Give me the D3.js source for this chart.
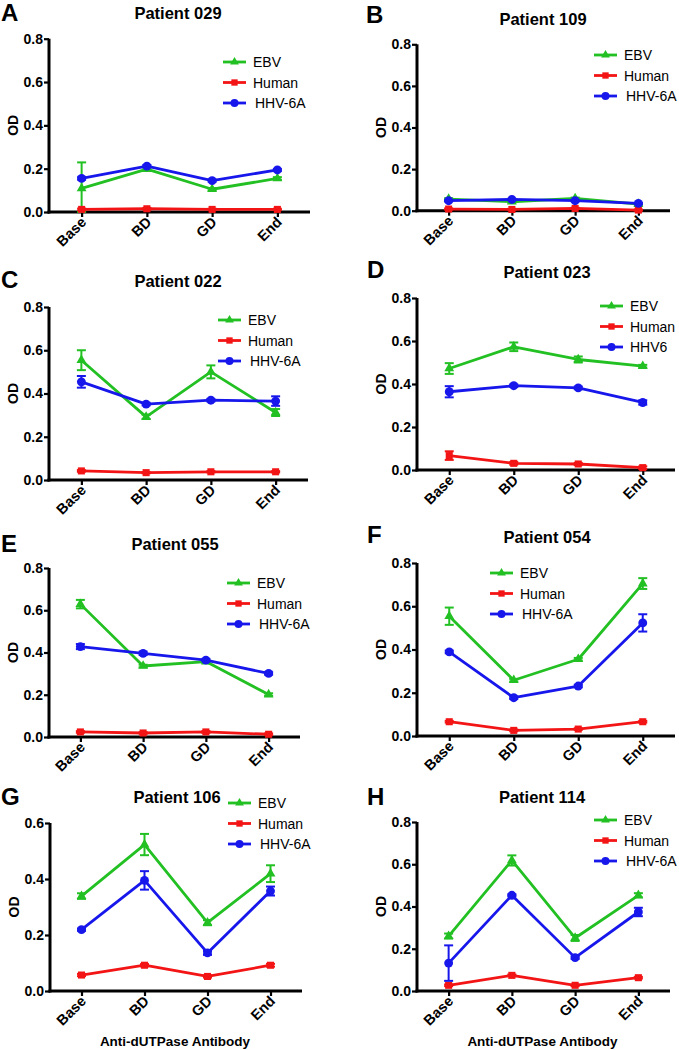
<!DOCTYPE html>
<html><head><meta charset="utf-8">
<script src="https://cdn.jsdelivr.net/npm/d3@7"></script>
<style>
body{margin:0;background:#fff}
svg{display:block}
text{font-family:"Liberation Sans",Arial,sans-serif;fill:#000}
</style>
</head><body>
<svg id="c" width="679" height="1050"></svg>
<script>
// ---------- data ----------
const categories = ["Base", "BD", "GD", "End"];
const seriesNames = ["EBV", "Human", "HHV-6A"];
const seriesNamesD = ["EBV", "Human", "HHV6"];
const panelLetters = ["A", "B", "C", "D", "E", "F", "G", "H"];
const panelTitles = ["Patient 029", "Patient 109", "Patient 022", "Patient 023", "Patient 055", "Patient 054", "Patient 106", "Patient 114"];
const yTicks08 = [0, 0.2, 0.4, 0.6, 0.8];
const yTicks06 = [0, 0.2, 0.4, 0.6];
const xAxisTitle = "Anti-dUTPase Antibody";
const yAxisTitle = "OD";

// means per series [EBV, Human, HHV-6A] at Base, BD, GD, End
const p029 = [[0.109, 0.198, 0.105, 0.155], [0.012, 0.015, 0.012, 0.012], [0.155, 0.212, 0.145, 0.194]];
const p029err = [[0.12, 0.006, 0.005, 0.006], [0.004, 0.004, 0.003, 0.003], [0.006, 0.005, 0.005, 0.005]];
const p109 = [[0.056, 0.043, 0.059, 0.032], [0.008, 0.006, 0.011, 0.003], [0.048, 0.054, 0.048, 0.035]];
const p109err = [[0.004, 0.004, 0.004, 0.003], [0.003, 0.003, 0.003, 0.003], [0.003, 0.003, 0.003, 0.003]];
const p022 = [[0.554, 0.292, 0.500, 0.312], [0.042, 0.034, 0.038, 0.038], [0.454, 0.351, 0.369, 0.365]];
const p022err = [[0.046, 0.010, 0.030, 0.016], [0.004, 0.003, 0.003, 0.003], [0.027, 0.006, 0.006, 0.022]];
const p023 = [[0.472, 0.573, 0.514, 0.483], [0.067, 0.031, 0.028, 0.011], [0.364, 0.392, 0.382, 0.314]];
const p023err = [[0.025, 0.020, 0.014, 0.006], [0.020, 0.006, 0.005, 0.006], [0.026, 0.006, 0.006, 0.010]];
const p055 = [[0.629, 0.336, 0.357, 0.201], [0.024, 0.019, 0.024, 0.013], [0.428, 0.396, 0.364, 0.301]];
const p055err = [[0.020, 0.006, 0.006, 0.006], [0.004, 0.004, 0.004, 0.004], [0.012, 0.008, 0.006, 0.006]];
const p054 = [[0.554, 0.258, 0.355, 0.705], [0.066, 0.026, 0.032, 0.066], [0.389, 0.177, 0.231, 0.523]];
const p054err = [[0.040, 0.006, 0.006, 0.025], [0.004, 0.004, 0.004, 0.004], [0.006, 0.006, 0.006, 0.040]];
const p106 = [[0.339, 0.523, 0.244, 0.419], [0.057, 0.092, 0.052, 0.092], [0.219, 0.395, 0.136, 0.357]];
const p106err = [[0.010, 0.038, 0.009, 0.030], [0.004, 0.004, 0.004, 0.005], [0.004, 0.033, 0.007, 0.016]];
const p114 = [[0.260, 0.618, 0.251, 0.453], [0.027, 0.074, 0.027, 0.063], [0.132, 0.453, 0.158, 0.374]];
const p114err = [[0.012, 0.024, 0.014, 0.010], [0.004, 0.004, 0.004, 0.004], [0.084, 0.005, 0.006, 0.020]];

const panelMeans = [p029, p109, p022, p023, p055, p054, p106, p114];
const panelErrs = [p029err, p109err, p022err, p023err, p055err, p054err, p106err, p114err];
const panelYMax = [0.8, 0.8, 0.8, 0.8, 0.8, 0.8, 0.6, 0.8];

// ---------- layout ----------
const colors = ["#22c022", "#f31515", "#1717ec"];
const symbols = [d3.symbolTriangle, d3.symbolSquare, d3.symbolCircle];
const symSizes = [42, 50, 62];

// left,right,top,bottom of plot; title x,y; letter x,y; legend lineX, first row y
const layout = [
  {l: 49, r: 310, t: 38.7, b: 212, tx: 178, ty: 18.5, lx: 1, ly: 21, gx: 223, gy: 62},
  {l: 417, r: 670, t: 44.3, b: 210.7, tx: 543, ty: 25, lx: 366, ly: 23, gx: 594, gy: 55},
  {l: 49, r: 308, t: 307, b: 480, tx: 178, ty: 287, lx: 1, ly: 288, gx: 218, gy: 320},
  {l: 417, r: 675, t: 298, b: 470, tx: 547, ty: 277.5, lx: 367, ly: 278, gx: 600, gy: 306},
  {l: 49, r: 300, t: 568, b: 737, tx: 175, ty: 550, lx: 1, ly: 552, gx: 227, gy: 583},
  {l: 417, r: 675, t: 563, b: 736, tx: 547, ty: 543, lx: 367, ly: 543, gx: 490, gy: 573},
  {l: 50, r: 302, t: 823, b: 991, tx: 177, ty: 803, lx: 1, ly: 805, gx: 228, gy: 803},
  {l: 417, r: 670, t: 822, b: 991, tx: 542, ty: 803, lx: 367, ly: 805, gx: 594, gy: 820}
];

const svg = d3.select("#c");

panelMeans.forEach((means, pi) => {
  const L = layout[pi];
  const errs = panelErrs[pi];
  const yMax = panelYMax[pi];
  const g = svg.append("g");

  const x = d3.scalePoint().domain(categories).range([L.l, L.r]).padding(0.5);
  const y = d3.scaleLinear().domain([0, yMax]).range([L.b, L.t]);

  // panel letter
  g.append("text").attr("x", L.lx).attr("y", L.ly)
    .attr("font-size", 24).attr("font-weight", "bold").text(panelLetters[pi]);
  // title
  g.append("text").attr("x", L.tx).attr("y", L.ty).attr("text-anchor", "middle")
    .attr("font-size", 16.5).attr("font-weight", "bold").text(panelTitles[pi]);

  // y axis
  const yAxis = d3.axisLeft(y).tickValues(yMax === 0.6 ? yTicks06 : yTicks08)
    .tickFormat(d3.format(".1f")).tickSize(5).tickSizeOuter(0).tickPadding(1);
  const ya = g.append("g").attr("transform", `translate(${L.l},0)`).call(yAxis);
  ya.select(".domain").attr("stroke", "#000").attr("stroke-width", 3)
    .attr("d", `M0,${L.b + 1.5}V${L.t}`);
  ya.selectAll(".tick line").attr("stroke", "#000").attr("stroke-width", 2.2);
  ya.selectAll(".tick text").attr("font-size", 14).attr("font-weight", "bold")
    .attr("font-family", "Liberation Sans, Arial, sans-serif").attr("fill", "#000");

  // x axis
  const xAxis = d3.axisBottom(x).tickSize(5).tickSizeOuter(0).tickPadding(0);
  const xa = g.append("g").attr("transform", `translate(0,${L.b})`).call(xAxis);
  xa.select(".domain").attr("stroke", "#000").attr("stroke-width", 3)
    .attr("d", `M${L.l - 1.5},0H${L.r}`);
  xa.selectAll(".tick line").attr("stroke", "#000").attr("stroke-width", 2.2);
  xa.selectAll(".tick text").attr("font-size", 14.5).attr("font-weight", "bold")
    .attr("font-family", "Liberation Sans, Arial, sans-serif").attr("fill", "#000")
    .attr("text-anchor", "end").attr("dy", null).attr("y", null)
    .attr("transform", "translate(5,11) rotate(-45)");

  // y title
  g.append("text").attr("transform", `translate(${L.l - 31},${(L.t + L.b) / 2}) rotate(-90)`)
    .attr("text-anchor", "middle").attr("font-size", 14).attr("font-weight", "bold").text(yAxisTitle);

  // x title (bottom row only)
  if (pi >= 6) {
    g.append("text").attr("x", (L.l + L.r) / 2 - 1).attr("y", 1045.5).attr("text-anchor", "middle")
      .attr("font-size", 13.5).attr("font-weight", "bold").text(xAxisTitle);
  }

  // series
  means.forEach((vals, si) => {
    const col = colors[si];
    const pts = vals.map((v, i) => ({c: categories[i], v, e: errs[si][i]}));
    const sg = g.append("g");
    // error bars
    pts.forEach(p => {
      const y1 = y(Math.max(0, p.v - p.e)), y2 = y(p.v + p.e), cx = x(p.c);
      sg.append("line").attr("x1", cx).attr("x2", cx).attr("y1", y1).attr("y2", y2)
        .attr("stroke", col).attr("stroke-width", 2);
      [y1, y2].forEach(yy => sg.append("line").attr("x1", cx - 4.5).attr("x2", cx + 4.5)
        .attr("y1", yy).attr("y2", yy).attr("stroke", col).attr("stroke-width", 2));
    });
    sg.append("path").datum(pts)
      .attr("d", d3.line().x(d => x(d.c)).y(d => y(d.v)))
      .attr("fill", "none").attr("stroke", col).attr("stroke-width", 2.8).attr("stroke-linejoin", "round");
    sg.selectAll("path.m").data(pts).join("path").attr("class", "m")
      .attr("transform", d => `translate(${x(d.c)},${y(d.v)})`)
      .attr("d", d3.symbol().type(symbols[si]).size(symSizes[si]))
      .attr("fill", col);
  });

  // legend
  const names = pi === 3 ? seriesNamesD : seriesNames;
  names.forEach((nm, si) => {
    const ry = L.gy + si * 20.5;
    const lg = g.append("g");
    lg.append("line").attr("x1", L.gx).attr("x2", L.gx + 23).attr("y1", ry).attr("y2", ry)
      .attr("stroke", colors[si]).attr("stroke-width", 2.8);
    lg.append("path").attr("transform", `translate(${L.gx + 11.5},${ry})`)
      .attr("d", d3.symbol().type(symbols[si]).size(symSizes[si] * 0.8)).attr("fill", colors[si]);
    lg.append("text").attr("x", L.gx + 30 + (si === 2 && pi !== 3 ? 2 : 0)).attr("y", ry).attr("dy", "0.36em")
      .attr("font-size", 14).text(nm);
  });
});
</script>
</body></html>
